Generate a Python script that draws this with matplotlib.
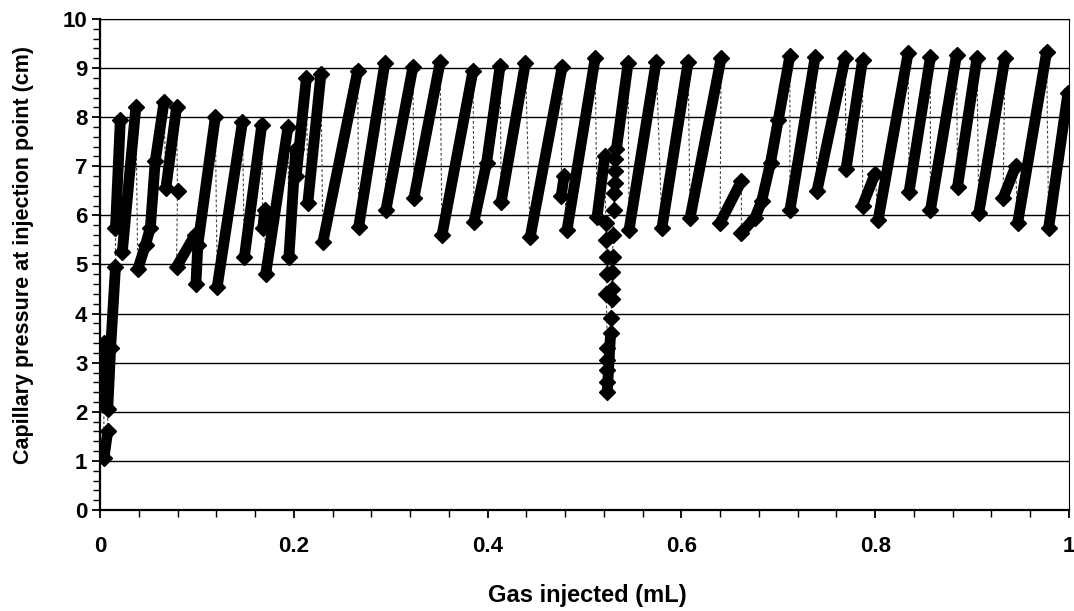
import numpy as np
import matplotlib.pyplot as plt
from matplotlib.ticker import MultipleLocator, FuncFormatter

plt.rcParams['font.family'] = ['Liberation Sans']
plt.rcParams['font.weight'] = 'bold'

# 注入气体体积 (mL) 与注入点毛细管压力 (cm)，按测量顺序排列的折线顶点
gas_ml = [
    0.000, 0.004, 0.004, 0.008, 0.008, 0.011, 0.016,
    0.016, 0.021,
    0.023, 0.037,
    0.039, 0.047, 0.052, 0.057, 0.066,
    0.068, 0.079, 0.080,
    0.079, 0.098,
    0.099, 0.101, 0.119,
    0.121, 0.147,
    0.149, 0.167,
    0.168, 0.170,
    0.171, 0.194,
    0.195, 0.202,
    0.2025, 0.213,
    0.2145, 0.228,
    0.230, 0.266,
    0.267, 0.294,
    0.295, 0.323,
    0.324, 0.351,
    0.353, 0.385,
    0.386, 0.399, 0.413,
    0.414, 0.439,
    0.444, 0.477,
    0.476, 0.479,
    0.482, 0.511,
    0.513, 0.521,
    # 0.52 附近的突降
    0.522, 0.5225, 0.523, 0.523, 0.5225, 0.5235, 0.523, 0.5235, 0.523, 0.5235,
    0.527, 0.5275, 0.528, 0.528, 0.5285, 0.529, 0.5295, 0.530, 0.5305, 0.531, 0.5315, 0.532,
    0.533, 0.545,
    0.546, 0.574,
    0.580, 0.607,
    0.609, 0.641,
    0.640, 0.662,
    0.662, 0.676, 0.683, 0.692, 0.700, 0.712,
    0.712, 0.738,
    0.740, 0.769,
    0.770, 0.787,
    0.787, 0.800,
    0.803, 0.834,
    0.835, 0.857,
    0.857, 0.884,
    0.885, 0.905,
    0.907, 0.934,
    0.932, 0.945,
    0.947, 0.977,
    0.979, 0.999,
]
pc_cm = [
    2.25, 3.40, 1.05, 1.60, 2.05, 3.30, 4.95,
    5.75, 7.95,
    5.25, 8.20,
    4.90, 5.40, 5.75, 7.10, 8.30,
    6.55, 8.20, 6.50,
    4.95, 5.60,
    4.60, 5.40, 8.00,
    4.55, 7.90,
    5.15, 7.85,
    5.75, 6.10,
    4.80, 7.80,
    5.15, 7.35,
    6.80, 8.80,
    6.25, 8.88,
    5.45, 8.95,
    5.77, 9.10,
    6.10, 9.03,
    6.35, 9.12,
    5.60, 8.95,
    5.87, 7.07, 9.05,
    6.27, 9.10,
    5.56, 9.03,
    6.40, 6.80,
    5.70, 9.20,
    5.97, 7.20,
    5.85, 5.50, 5.15, 4.80, 4.40, 3.30, 3.05, 2.85, 2.60, 2.40,
    3.60, 3.90, 4.30, 4.50, 4.85, 5.15, 5.60, 6.10, 6.45, 6.65, 6.90, 7.15,
    7.35, 9.10,
    5.70, 9.13,
    5.75, 9.13,
    5.95, 9.20,
    5.85, 6.70,
    5.65, 5.95, 6.30, 7.07, 7.94, 9.25,
    6.10, 9.22,
    6.50, 9.20,
    6.95, 9.16,
    6.20, 6.85,
    5.90, 9.30,
    6.48, 9.22,
    6.10, 9.27,
    6.58, 9.20,
    6.05, 9.20,
    6.35, 7.00,
    5.84, 9.33,
    5.74, 8.50,
]

x = np.array(gas_ml)
y = np.array(pc_cm)

fig = plt.figure(figsize=(10.74, 6.11), dpi=100)
ax = fig.add_axes([0.0931, 0.1653, 0.9022, 0.8037])

# 细虚线连接所有点
ax.plot(x, y, color='#444444', lw=0.8, ls=(0, (2.5, 2)), zorder=2)

# 连续上升段：密集菱形点，画成粗线
dx = np.diff(x)
dy = np.diff(y)
for i in np.where((dy > 0) & (dx >= 0.0015))[0]:
    ax.plot(x[i:i + 2], y[i:i + 2], color='black', lw=7.8,
            solid_capstyle='round', zorder=3)

ax.plot(x, y, 'D', color='black', ms=8, ls='none', zorder=4)

ax.set_xlim(0, 1)
ax.set_ylim(0, 10)
ax.xaxis.set_major_locator(MultipleLocator(0.2))
ax.xaxis.set_minor_locator(MultipleLocator(0.04))
ax.yaxis.set_major_locator(MultipleLocator(1))
ax.yaxis.set_minor_locator(MultipleLocator(0.2))
ax.xaxis.set_major_formatter(FuncFormatter(lambda v, p: '%g' % round(v, 2)))

ax.yaxis.grid(True, color='black', lw=1)
ax.set_axisbelow(True)

for s in ['left', 'bottom']:
    ax.spines[s].set_linewidth(1.6)
for s in ['top', 'right']:
    ax.spines[s].set_linewidth(0.8)

ax.tick_params(axis='both', which='major', direction='out', length=6, width=1.3,
               labelsize=16)
ax.tick_params(axis='both', which='minor', direction='out', length=5, width=1)
ax.tick_params(axis='x', which='major', pad=13)
ax.tick_params(axis='y', which='major', pad=3)
for lab in ax.get_xticklabels() + ax.get_yticklabels():
    lab.set_fontweight('bold')

fig.text(0.547, 0.026, 'Gas injected (mL)', ha='center', va='center',
         fontsize=17, fontweight='bold')
fig.text(0.022, 0.583, 'Capillary pressure at injection point (cm)', ha='center',
         va='center', rotation=90, fontsize=15.5, fontweight='bold')

fig.savefig('out.png', dpi=100)
